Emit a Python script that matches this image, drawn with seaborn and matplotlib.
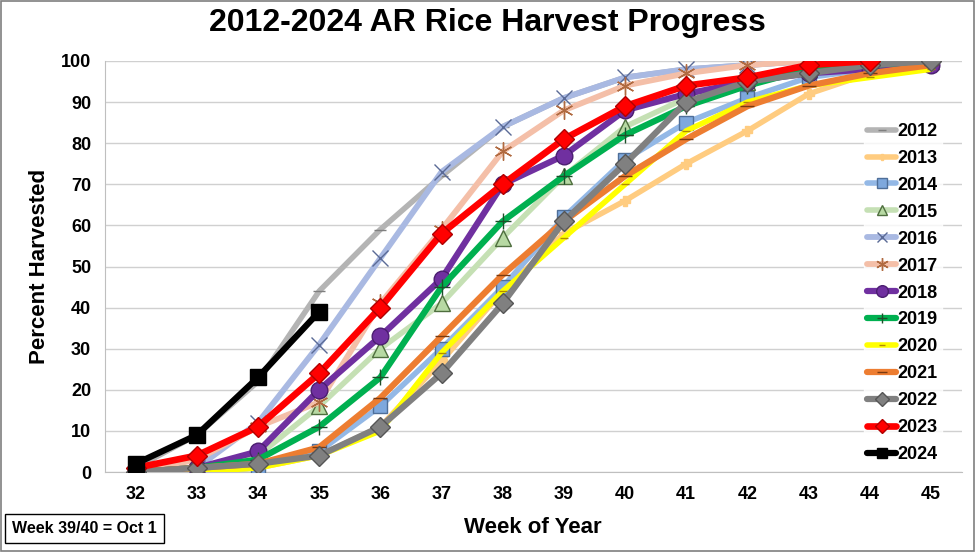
import numpy as np
import pandas as pd
import matplotlib
matplotlib.use("Agg")
import matplotlib.pyplot as plt
import seaborn as sns
from matplotlib.patches import Rectangle

# ----------------------------------------------------------
# Data (percent of rice harvested by week of year)
# ----------------------------------------------------------
weeks = [32, 33, 34, 35, 36, 37, 38, 39, 40, 41, 42, 43, 44, 45]

y2012 = [1, 9, 22, 44, 59, 72, 84, 91, 96, 98, 99, 100, 100, 100]
y2013 = [0, 0, 1, 4, 11, 27, 44, 58, 66, 75, 83, 92, 97, 99]
y2014 = [0, 0, 1, 5, 16, 30, 45, 62, 76, 85, 91, 96, 98, 100]
y2015 = [0, 1, 4, 16, 30, 41, 57, 72, 84, 91, 95, 98, 99, 100]
y2016 = [0, 1, 12, 31, 52, 73, 84, 91, 96, 98, 99, 100, 100, 100]
y2017 = [0, 3, 11, 17, 41, 59, 78, 88, 94, 97, 99, 100, 100, 100]
y2018 = [0, 1, 5, 20, 33, 47, 70, 77, 88, 92, 95, 97, 98, 99]
y2019 = [0, 1, 3, 11, 23, 45, 61, 72, 82, 89, 94, 98, 99, 100]
y2020 = [0, 0, 1, 4, 10, 29, 44, 57, 70, 83, 90, 94, 96, 98]
y2021 = [0, 1, 2, 6, 18, 33, 48, 61, 72, 81, 89, 94, 97, 99]
y2022 = [0, 1, 2, 4, 11, 24, 41, 61, 75, 90, 95, 97, 99, 100]
y2023 = [1, 4, 11, 24, 40, 58, 70, 81, 89, 94, 96, 99, 100]
y2024 = [2, 9, 23, 39]

years = ["2012", "2013", "2014", "2015", "2016", "2017", "2018",
         "2019", "2020", "2021", "2022", "2023", "2024"]
values = [y2012, y2013, y2014, y2015, y2016, y2017, y2018,
          y2019, y2020, y2021, y2022, y2023, y2024]

# style per year: line colour, marker, marker face, marker edge, marker size, line width
styles = {
    "2012": ("#B4B4B4", "_", "#D9D9D9", "#7F7F7F", 9, 4.0),
    "2013": ("#FFCC80", "P", "#FFCC80", "#FFCC80", 7, 4.0),
    "2014": ("#93B8E6", "s", "#7EA8DD", "#4F6F99", 10, 4.0),
    "2015": ("#C5E0B4", "^", "#B7D9A3", "#4E6E3E", 11, 4.0),
    "2016": ("#A9B9E2", "x", "none", "#5A6A96", 11, 4.2),
    "2017": ("#F4BFA8", (6, 2, 0), "none", "#B06A40", 13, 4.2),
    "2018": ("#7030A0", "o", "#7030A0", "#4B1E70", 12, 4.5),
    "2019": ("#00B050", "+", "none", "#1E4F2A", 11, 4.5),
    "2020": ("#FFFF00", "_", "#FFEB80", "#B08A00", 6, 4.0),
    "2021": ("#ED7D31", "_", "#ED7D31", "#7A3A10", 10, 4.5),
    "2022": ("#808080", "D", "#808080", "#555555", 10, 4.5),
    "2023": ("#FF0000", "D", "#FF0000", "#B00000", 10, 4.8),
    "2024": ("#000000", "s", "#000000", "#000000", 11, 4.5),
}

# ----------------------------------------------------------
# Long-form table for seaborn
# ----------------------------------------------------------
rows = []
for yr, vals in zip(years, values):
    for w, v in zip(weeks, vals):
        rows.append({"Week": w, "Pct": v, "Year": yr})
df = pd.DataFrame(rows)

# ----------------------------------------------------------
# Plot
# ----------------------------------------------------------
sns.set_style("white")
plt.rcParams["font.family"] = ["Liberation Sans", "DejaVu Sans"]
plt.rcParams["font.weight"] = "bold"
plt.rcParams["text.color"] = "black"
plt.rcParams["xtick.color"] = "black"
plt.rcParams["ytick.color"] = "black"
plt.rcParams["axes.labelcolor"] = "black"

fig = plt.figure(figsize=(9.75, 5.52), dpi=100)
ax = fig.add_axes([0.1077, 0.1449, 0.8785, 0.7446])

for yr in years:
    color, mk, mfc, mec, ms, lw = styles[yr]
    sub = df[df["Year"] == yr]
    sns.lineplot(data=sub, x="Week", y="Pct", ax=ax, color=color, lw=lw,
                 marker=mk, markersize=ms, markerfacecolor=mfc,
                 markeredgecolor=mec, markeredgewidth=1.0, label=yr,
                 zorder=3, estimator=None, sort=False)

ax.set_xlim(31.5, 45.5)
ax.set_ylim(0, 100)
ax.set_yticks(np.arange(0, 101, 10))
ax.set_xticks(weeks)
ax.set_xticks(np.arange(32.5, 45.5, 1), minor=True)
ax.tick_params(axis="x", which="major", length=0, pad=10, labelsize=13, labelcolor="black")
ax.tick_params(axis="x", which="minor", length=6, color="#BFBFBF", direction="out")
ax.tick_params(axis="y", length=6, color="#BFBFBF", direction="out", pad=4,
               labelsize=13, labelcolor="black")
for lab in ax.get_xticklabels() + ax.get_yticklabels():
    lab.set_fontweight("bold")

ax.grid(axis="y", color="#D0D0D0", lw=1.0, zorder=0)
ax.set_axisbelow(True)
for side in ["top", "right"]:
    ax.spines[side].set_visible(False)
ax.spines["left"].set_color("#BFBFBF")
ax.spines["bottom"].set_color("#BFBFBF")

ax.set_xlabel("Week of Year", fontsize=16, fontweight="bold", labelpad=10, color="black")
ax.set_ylabel("Percent Harvested", fontsize=16, fontweight="bold", labelpad=8, color="black")
fig.suptitle("2012-2024 AR Rice Harvest Progress", fontsize=23, fontweight="bold",
             y=0.985, color="black")

leg = ax.legend(loc="upper left", bbox_to_anchor=(0.875, 0.88), frameon=True,
                fontsize=13, handlelength=1.6, handletextpad=0.1,
                labelspacing=0.55, borderpad=0.2, markerscale=0.7)
leg.get_frame().set_facecolor("white")
leg.get_frame().set_edgecolor("white")
for t in leg.get_texts():
    t.set_fontweight("bold")
    t.set_color("black")

# note box bottom-left
fig.text(0.012, 0.043, "Week 39/40 = Oct 1", fontsize=11.5, fontweight="bold",
         va="center", ha="left", color="black",
         bbox=dict(boxstyle="square,pad=0.45", fc="white", ec="black", lw=1.0))

# outer border
fig.patches.append(Rectangle((0.001, 0.001), 0.998, 0.998, transform=fig.transFigure,
                             fill=False, ec="#7F7F7F", lw=1.2))

fig.savefig("out.png", dpi=100)
